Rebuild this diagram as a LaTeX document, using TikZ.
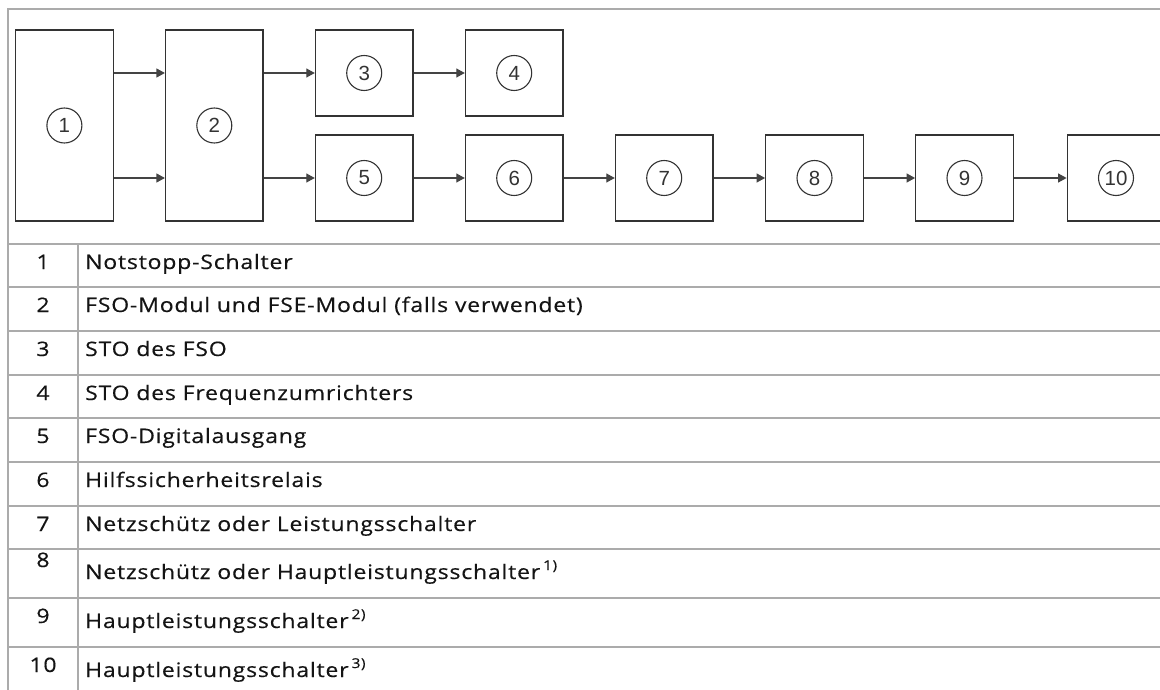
\documentclass[tikz,border=0pt]{standalone}
\usepackage{fontspec}
\setmainfont{Open Sans}[FakeStretch=1.15,LetterSpace=4,FakeBold=0.4]
\newfontfamily\arialf{Liberation Sans}
\usetikzlibrary{arrows.meta}
\definecolor{framec}{HTML}{ABABAB}
\definecolor{boxc}{HTML}{333333}
\definecolor{arrc}{HTML}{444444}
\definecolor{txtc}{HTML}{141414}
\tikzset{
  blk/.style={draw=boxc, line width=1.3pt, minimum width=97.5pt, inner sep=0pt},
  tall/.style={blk, minimum height=191pt},
  small/.style={blk, minimum height=86pt},
  num/.style={draw=boxc, circle, line width=1.1pt, minimum size=35pt, inner sep=0pt,
    font=\arialf\fontsize{20.5}{22}\selectfont, text=boxc},
  arr/.style={draw=arrc, line width=1.2pt, -{Triangle[length=8.5pt,width=9pt]}},
  frame/.style={draw=framec, line width=1.9pt},
  rownum/.style={anchor=base, inner sep=0pt, text=txtc, font=\fontsize{20}{22}\selectfont},
  rowtxt/.style={anchor=base west, inner sep=0pt, text=txtc, font=\fontsize{20}{22}\selectfont},
}
\newcommand{\fnm}[1]{\hspace{3pt}\raisebox{9pt}{\fontsize{13.5}{14}\selectfont #1}}
\begin{document}
\begin{tikzpicture}[x=1pt,y=-1pt]
\useasboundingbox (0,0) rectangle (1160,690);
\begin{scope}
\clip (0,0) rectangle (1160,690);
% frame
\draw[frame] (8,691) -- (8,9) -- (1170,9);
\foreach \yy in {244,287,331,375,418,462,506,549,598,647}
  \draw[frame] (8,\yy) -- (1170,\yy);
\draw[frame] (78,244) -- (78,691);
% boxes
\node[tall]  (b1) at (64.4,125.5) {};
\node[tall]  (b2) at (214.3,125.5) {};
\node[small] (b3) at (364.2,73) {};
\node[small] (b4) at (514.2,73) {};
\node[small] (b5) at (364.2,178) {};
\node[small] (b6) at (514.2,178) {};
\node[small] (b7) at (664.2,178) {};
\node[small] (b8) at (814.5,178) {};
\node[small] (b9) at (964.5,178) {};
\node[small] (b10) at (1116,178) {};
% numbers
\foreach \i in {1,...,10} \node[num] (c\i) at (b\i.center) {\i};
% arrows
\draw[arr] (b1.east |- b3) -- (b2.west |- b3);
\draw[arr] (b1.east |- b5) -- (b2.west |- b5);
\draw[arr] (b2.east |- b3) -- (b3.west);
\draw[arr] (b2.east |- b5) -- (b5.west);
\draw[arr] (b3.east) -- (b4.west);
\draw[arr] (b5.east) -- (b6.west);
\draw[arr] (b6.east) -- (b7.west);
\draw[arr] (b7.east) -- (b8.west);
\draw[arr] (b8.east) -- (b9.west);
\draw[arr] (b9.east) -- (b10.west);
% table
\node[rownum] (n1) at (43,269) {1};  \node[rowtxt] (t1) at (85,269) {Notstopp-Schalter};
\node[rownum] (n2) at (43,312) {2};  \node[rowtxt] (t2) at (85,312) {FSO-Modul und FSE-Modul (falls verwendet)};
\node[rownum] (n3) at (43,356) {3};  \node[rowtxt] (t3) at (85,356) {STO des FSO};
\node[rownum] (n4) at (43,400) {4};  \node[rowtxt] (t4) at (85,400) {STO des Frequenzumrichters};
\node[rownum] (n5) at (43,443) {5};  \node[rowtxt] (t5) at (85,443) {FSO-Digitalausgang};
\node[rownum] (n6) at (43,487) {6};  \node[rowtxt] (t6) at (85,487) {Hilfssicherheitsrelais};
\node[rownum] (n7) at (43,531) {7};  \node[rowtxt] (t7) at (85,531) {Netzschütz oder Leistungsschalter};
\node[rownum] (n8) at (43,567) {8};  \node[rowtxt] (t8) at (85,579) {Netzschütz oder Hauptleistungsschalter\fnm{1)}};
\node[rownum] (n9) at (43,623) {9};  \node[rowtxt] (t9) at (85,628) {Hauptleistungsschalter\fnm{2)}};
\node[rownum] (n10) at (43,672) {10}; \node[rowtxt] (t10) at (85,677) {Hauptleistungsschalter\fnm{3)}};
\end{scope}
\end{tikzpicture}
\end{document}
